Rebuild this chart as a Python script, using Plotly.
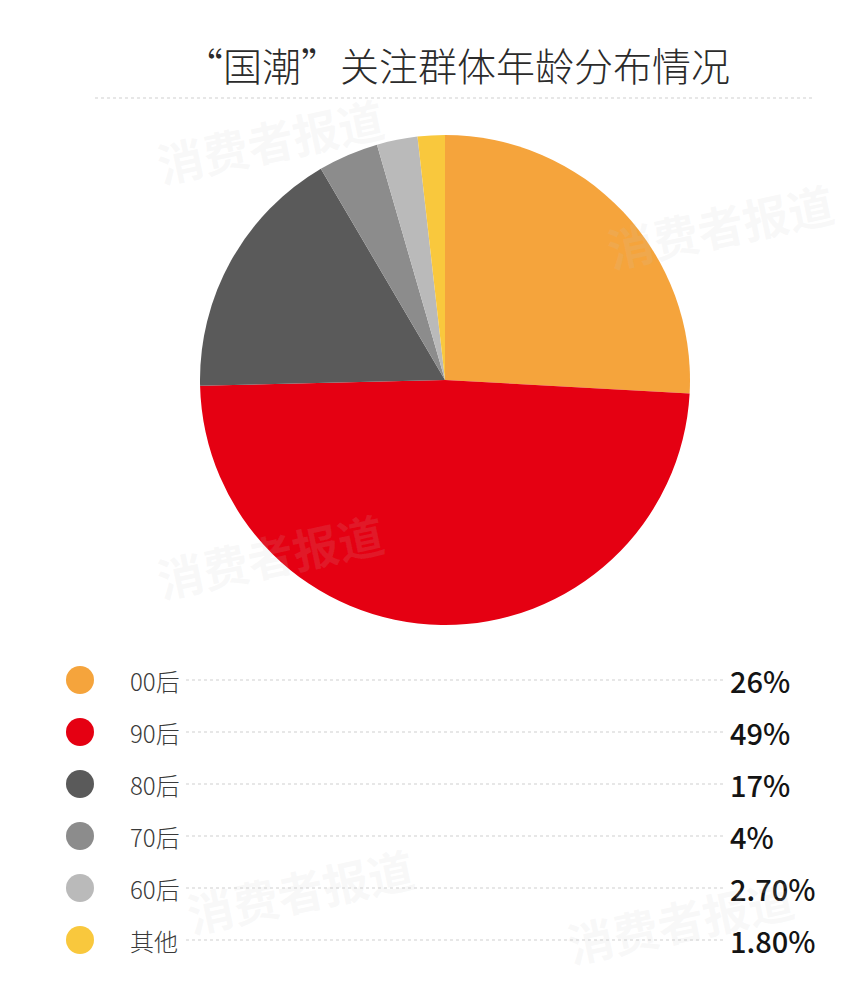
import plotly.graph_objects as go

categories = ["00后", "90后", "80后", "70后", "60后", "其他"]
values = [26, 49, 17, 4, 2.7, 1.8]
value_labels = ["26%", "49%", "17%", "4%", "2.70%", "1.80%"]
colors = ["#F5A43C", "#E50012", "#5A5A5A", "#8C8C8C", "#BABABA", "#F9C83D"]

# page is 865x988; the html body has an 8px margin, so the figure is a bit smaller
OFF = 8
W, H = 865 - 2 * OFF, 988 - 2 * OFF
fig = go.Figure()

def px_x(x):
    return (x - OFF) / W

def px_y(y):
    return 1 - (y - OFF) / H

fig.add_trace(go.Pie(
    labels=categories, values=values, sort=False, direction="clockwise",
    rotation=0, marker=dict(colors=colors, line=dict(width=0)),
    textinfo="none", hoverinfo="label+value", showlegend=False,
    domain=dict(x=[px_x(200), px_x(690)], y=[px_y(625), px_y(135)]),
))

leg_x = 80
leg_y0, leg_dy = 680, 52
ys = [leg_y0 + leg_dy * i for i in range(len(categories))]
fig.add_trace(go.Scatter(
    x=[leg_x] * len(categories), y=ys, mode="markers",
    marker=dict(size=28, color=colors, line=dict(width=0)),
    hoverinfo="skip", showlegend=False, xaxis="x", yaxis="y",
))

font_fam = "Noto Sans CJK SC"
shapes = [dict(type="line", xref="x", yref="y", x0=95, x1=812, y0=98, y1=98,
               line=dict(color="#CFCFCF", width=1.2, dash="dot"))]
annotations = [dict(text="“国潮”关注群体年龄分布情况", x=457, y=64, xref="x", yref="y",
                    showarrow=False,
                    font=dict(size=39, color="#2b2b2b", family=font_fam, weight=300))]
for cat, lab, y in zip(categories, value_labels, ys):
    shapes.append(dict(type="line", xref="x", yref="y", x0=186, x1=724, y0=y, y1=y,
                       line=dict(color="#CFCFCF", width=1.2, dash="dot")))
    annotations.append(dict(text=cat, x=128, y=y, xref="x", yref="y", xanchor="left",
                            showarrow=False,
                            font=dict(size=24, color="#3a3a3a", family=font_fam, weight=300)))
    annotations.append(dict(text=lab, x=728, y=y, xref="x", yref="y", xanchor="left",
                            showarrow=False,
                            font=dict(size=29, color="#141414", family=font_fam, weight=500)))

for (wx, wy) in [(270, 140), (720, 225), (270, 555), (300, 890), (680, 920)]:
    annotations.append(dict(text="<b>消费者报道</b>", x=wx, y=wy, xref="x", yref="y", showarrow=False,
                            textangle=-12, font=dict(size=46, color="rgba(200,200,200,0.12)",
                                                     family=font_fam)))

fig.update_layout(
    width=W, height=H, margin=dict(l=0, r=0, t=0, b=0),
    paper_bgcolor="white", plot_bgcolor="rgba(0,0,0,0)",
    xaxis=dict(range=[OFF, OFF + W], domain=[0, 1], visible=False, fixedrange=True),
    yaxis=dict(range=[OFF + H, OFF], domain=[0, 1], visible=False, fixedrange=True),
    shapes=shapes, annotations=annotations,
)

fig.write_html("out.html")
